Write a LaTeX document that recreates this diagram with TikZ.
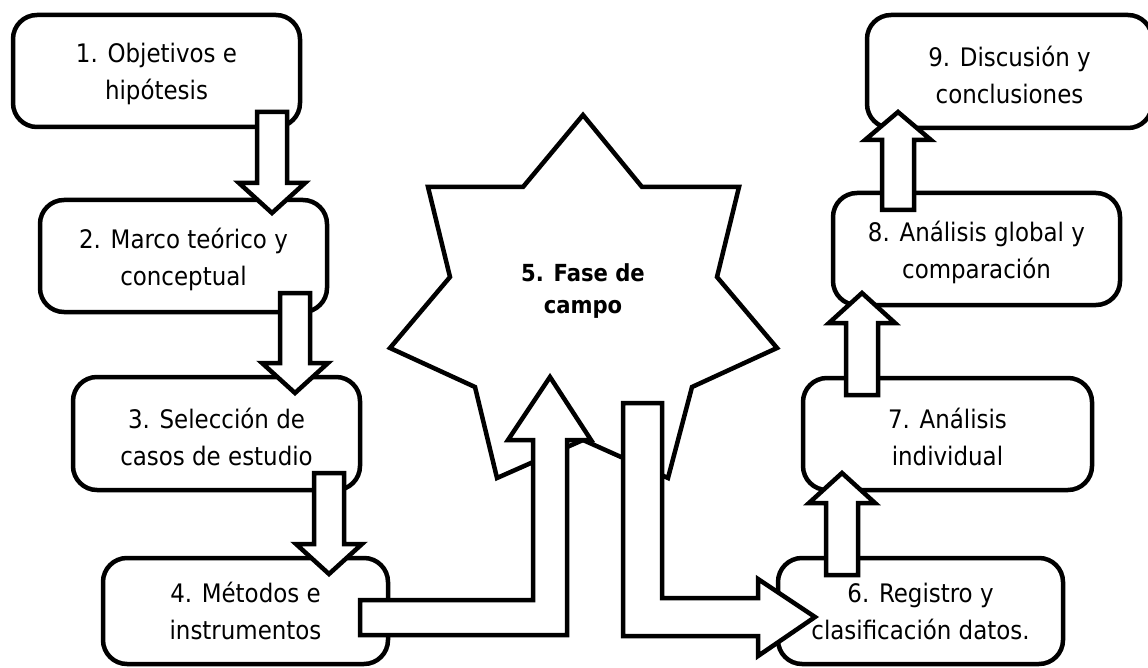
\documentclass[tikz,border=0pt]{standalone}
\usepackage{fontspec}
\newfontfamily\dfont{DejaVu Sans Condensed}
\begin{document}
\begin{tikzpicture}[x=1pt,y=-1pt,
  box/.style={draw, line width=4.5pt, rounded corners=24pt, fill=white, inner sep=0pt},
  lbl/.style={align=center, font=\dfont\fontsize{25.5}{37}\selectfont, inner sep=0pt},
  starlbl/.style={align=center, font=\dfont\bfseries\fontsize{23.5}{32}\selectfont, inner sep=0pt},
  barrow/.style={draw, line width=4.5pt, fill=white, line join=miter, miter limit=10},
  starshape/.style={draw, line width=4.5pt, fill=white, line join=miter, miter limit=10}]
\fill[white] (0,0) rectangle (1148,668);
\useasboundingbox (0,0) rectangle (1148,668);
% boxes
\node[box, minimum width=287pt, minimum height=112pt] (b1) at (156.5,71) {};
\node[box, minimum width=287pt, minimum height=112pt] (b2) at (183.5,256) {};
\node[box, minimum width=287pt, minimum height=113pt] (b3) at (216.5,433.5) {};
\node[box, minimum width=285pt, minimum height=106pt] (b4) at (245.5,611) {};
\node[box, minimum width=285pt, minimum height=106pt] (b6) at (920.5,611) {};
\node[box, minimum width=289pt, minimum height=112pt] (b7) at (947.5,434) {};
\node[box, minimum width=287pt, minimum height=112pt] (b8) at (976.5,249) {};
\node[box, minimum width=285pt, minimum height=113pt] (b9) at (1009.5,71.5) {};
% star
\draw[starshape] (583,115) -- (642,187) -- (739,187) -- (717,277) -- (777,348) -- (692,387)
  -- (668,478) -- (583,440) -- (497,478) -- (475,387) -- (390,348) -- (450,277)
  -- (428,187) -- (523,187) -- cycle;
% down arrows
\draw[barrow] (257,112) -- (287,112) -- (287,183) -- (305,183) -- (272,213) -- (239,183) -- (257,183) -- cycle;
\draw[barrow] (280,293) -- (310,293) -- (310,363) -- (328,363) -- (295,393) -- (262,363) -- (280,363) -- cycle;
\draw[barrow] (314,473) -- (344,473) -- (344,544) -- (362,544) -- (329,574) -- (296,544) -- (314,544) -- cycle;
% up arrows
\draw[barrow] (826,575) -- (858,575) -- (858,503) -- (875,503) -- (842,473) -- (809,503) -- (826,503) -- cycle;
\draw[barrow] (846,395) -- (878,395) -- (878,323) -- (895,323) -- (862,293) -- (829,323) -- (846,323) -- cycle;
\draw[barrow] (882,210) -- (914,210) -- (914,140) -- (931,140) -- (898,112) -- (865,140) -- (882,140) -- cycle;
% bent arrows
\draw[barrow] (360,600) -- (533,600) -- (533,440) -- (508,440) -- (550,377) -- (591,440) -- (567,440)
  -- (567,635) -- (360,635) -- cycle;
\draw[barrow] (623,403) -- (662,403) -- (662,598) -- (758,598) -- (758,579) -- (815,617) -- (758,656)
  -- (758,636) -- (623,636) -- cycle;
% labels
\node[lbl] (t1) at ([yshift=-3pt]b1.center) {1. Objetivos e\\hipótesis};
\node[lbl] (t2) at ([yshift=-3pt]b2.center) {2. Marco teórico y\\conceptual};
\node[lbl] (t3) at ([yshift=-3pt]b3.center) {3. Selección de\\casos de estudio};
\node[lbl] (t4) at (b4.center) {4. Métodos e\\instrumentos};
\node[lbl] (t6) at (b6.center) {6. Registro y\\clasificación datos.};
\node[lbl] (t7) at ([yshift=-3pt]b7.center) {7. Análisis\\individual};
\node[lbl] (t8) at ([yshift=-3pt]b8.center) {8. Análisis global y\\comparación};
\node[lbl] (t9) at ([yshift=-3pt]b9.center) {9. Discusión y\\conclusiones};
\node[starlbl] (t5) at (583,291) {5. Fase de\\campo};
\end{tikzpicture}
\end{document}
